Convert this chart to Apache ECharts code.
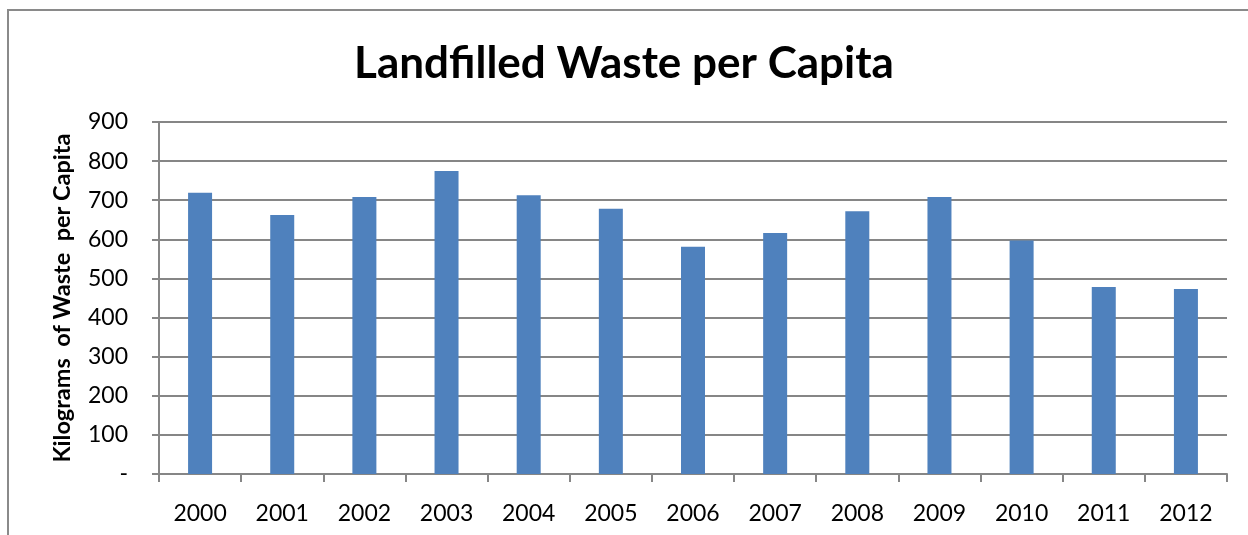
<!DOCTYPE html>
<html>
<head>
<meta charset="utf-8">
<script src="https://cdn.jsdelivr.net/npm/echarts@6/dist/echarts.min.js"></script>
<style>
  html, body { margin: 0; padding: 0; background: #fff; }
  #chart { width: 1248px; height: 535px; }
</style>
</head>
<body>
<div id="chart"></div>
<script>
// Landfilled waste per capita, kilograms per year
const years = ['2000', '2001', '2002', '2003', '2004', '2005', '2006',
               '2007', '2008', '2009', '2010', '2011', '2012'];
const wasteKg = [719, 662, 708, 775, 713, 678, 581, 616, 672, 708, 597, 478, 473];
const yTicks = [0, 100, 200, 300, 400, 500, 600, 700, 800, 900];

const FONT = 'Lato, "Open Sans", sans-serif';
const chart = echarts.init(document.getElementById('chart'), null, { renderer: 'canvas' });

chart.setOption({
  animation: false,
  backgroundColor: '#ffffff',
  title: {
    text: 'Landfilled Waste per Capita',
    left: 'center',
    top: 37,
    textStyle: { fontFamily: FONT, fontWeight: 'bold', fontSize: 44, color: '#000' }
  },
  graphic: [{
    type: 'rect',
    shape: { x: 8, y: 10, width: 1400, height: 700 },
    style: { fill: 'none', stroke: '#8a8a8a', lineWidth: 2 },
    silent: true
  }],
  grid: { left: 159, right: 21, top: 122, bottom: 61, containLabel: false },
  xAxis: {
    type: 'category',
    data: years,
    boundaryGap: true,
    axisLine: { lineStyle: { color: '#868686', width: 2 } },
    axisTick: { show: true, length: 8, alignWithLabel: false, lineStyle: { color: '#868686', width: 2 } },
    axisLabel: { fontFamily: FONT, fontSize: 23, color: '#000', margin: 28 }
  },
  yAxis: {
    type: 'value',
    min: yTicks[0],
    max: yTicks[yTicks.length - 1],
    interval: 100,
    name: 'Kilograms  of Waste  per Capita',
    nameLocation: 'middle',
    nameGap: 85,
    nameRotate: 90,
    nameTextStyle: { fontFamily: FONT, fontWeight: 'bold', fontSize: 23.5, color: '#000' },
    axisLine: { show: true, lineStyle: { color: '#868686', width: 2 } },
    axisTick: { show: true, length: 7, lineStyle: { color: '#868686', width: 2 } },
    axisLabel: {
      fontFamily: FONT, fontSize: 23, color: '#000', margin: 31,
      formatter: v => (v === 0 ? '-' : String(v))
    },
    splitLine: { show: true, lineStyle: { color: '#868686', width: 2 } }
  },
  series: [{
    type: 'bar',
    data: wasteKg,
    barWidth: 24,
    itemStyle: { color: '#4f81bd' }
  }]
});
</script>
</body>
</html>
